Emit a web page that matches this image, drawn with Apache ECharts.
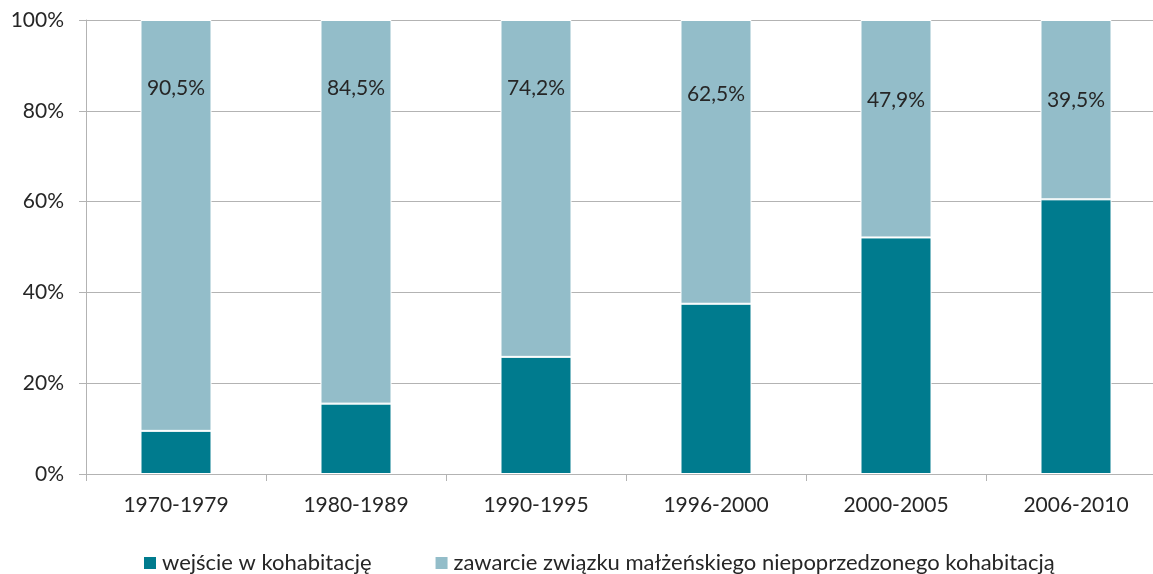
<!DOCTYPE html>
<html>
<head>
<meta charset="utf-8">
<script src="https://cdn.jsdelivr.net/npm/echarts@6/dist/echarts.min.js"></script>
<style>html,body{margin:0;padding:0;background:#fff;overflow:hidden;width:1153px;height:574px}#c{width:1166px;height:574px}</style>
</head>
<body>
<div id="c"></div>
<script>
const categories = ['1970-1979','1980-1989','1990-1995','1996-2000','2000-2005','2006-2010'];
const cohabitation = [9.5, 15.5, 25.8, 37.5, 52.1, 60.5];
const marriageNoCohab = [90.5, 84.5, 74.2, 62.5, 47.9, 39.5];
const seriesNames = ['wejście w kohabitację', 'zawarcie związku małżeńskiego niepoprzedzonego kohabitacją'];
const yTicks = [0, 20, 40, 60, 80, 100];
const labelShift = [0, 0, 0, 6, 12, 12];

const FONT = 'Lato, "Open Sans", sans-serif';
const chart = echarts.init(document.getElementById('c'));
chart.setOption({
  animation: false,
  textStyle: { fontFamily: FONT },
  grid: { left: 86, top: 20, right: 0, height: 454, containLabel: false },
  legend: {
    left: 137, top: 547,
    itemWidth: 14, itemHeight: 14, itemGap: 62,
    icon: 'rect',
    textStyle: { fontFamily: FONT, fontSize: 22, color: '#262626' },
    data: seriesNames
  },
  xAxis: {
    type: 'category',
    data: categories,
    axisLine: { show: true, lineStyle: { color: '#b3b3b3', width: 1 } },
    axisTick: { show: true, length: 7, alignWithLabel: false, lineStyle: { color: '#b3b3b3' } },
    axisLabel: { fontFamily: FONT, fontSize: 21, color: '#262626', margin: 21 }
  },
  yAxis: {
    type: 'value',
    min: yTicks[0], max: yTicks[yTicks.length - 1], interval: 20,
    axisLine: { show: true, lineStyle: { color: '#b3b3b3', width: 1 } },
    axisTick: { show: true, length: 7, lineStyle: { color: '#b3b3b3' } },
    splitLine: { show: true, lineStyle: { color: '#b3b3b3', width: 1 } },
    axisLabel: { fontFamily: FONT, fontSize: 21, color: '#262626', margin: 22, formatter: '{value}%' }
  },
  series: [
    {
      name: seriesNames[0], type: 'bar', stack: 'total', barWidth: 71,
      data: cohabitation,
      itemStyle: { color: '#007b8e', borderColor: '#ffffff', borderWidth: 1 }
    },
    {
      name: seriesNames[1], type: 'bar', stack: 'total', barWidth: 71,
      data: marriageNoCohab.map((v, i) => ({
        value: v,
        label: { distance: 58 + labelShift[i] }
      })),
      itemStyle: { color: '#93bdc9', borderColor: '#ffffff', borderWidth: 1 },
      label: {
        show: true, position: 'insideTop', distance: 58,
        fontFamily: FONT, fontSize: 21, color: '#262626',
        formatter: p => p.value.toFixed(1).replace('.', ',') + '%'
      }
    }
  ]
});
</script>
</body>
</html>
